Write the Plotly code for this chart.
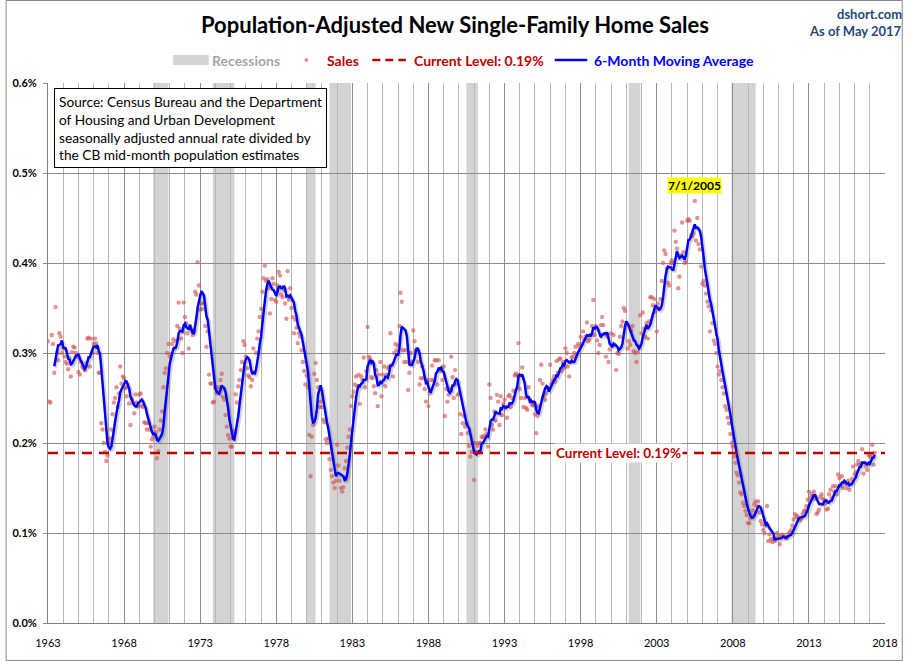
import pandas as pd
import plotly.graph_objects as go

# ---------------- data (percent of population, SAAR new single-family sales) -------------
start_month = "1963-01-01"

sales_1960s = [
    .313, .246, .245, .320, .310, .278, .351, .300, .292, .322, .318, .300,  # 1963
    .305, .296, .290, .288, .282, .294, .274, .301, .307, .306, .300, .296,  # 1964
    .279, .276, .290, .285, .283, .281, .289, .316, .317, .285, .316, .300,  # 1965
    .310, .316, .311, .300, .278, .278, .222, .215, .200, .190, .180, .186,  # 1966
    .200, .205, .215, .232, .245, .250, .262, .240, .255, .285, .266, .274,  # 1967
    .272, .261, .252, .262, .244, .220, .249, .244, .233, .254, .245, .241,  # 1968
    .254, .255, .241, .240, .223, .222, .215, .222, .215, .196, .204, .207,  # 1969
]
sales_1970s = [
    .218, .212, .183, .191, .215, .225, .235, .262, .278, .283, .300, .310,  # 1970
    .296, .299, .310, .315, .305, .313, .330, .356, .327, .316, .300, .356,  # 1971
    .340, .333, .322, .305, .330, .325, .320, .325, .368, .365, .401, .375,  # 1972
    .348, .355, .349, .355, .330, .307, .324, .276, .266, .266, .245, .246,  # 1973
    .262, .255, .258, .262, .270, .277, .251, .248, .231, .218, .209, .205,  # 1974
    .196, .196, .205, .213, .254, .245, .263, .270, .281, .290, .313, .309,  # 1975
    .296, .283, .275, .273, .263, .270, .305, .278, .300, .316, .324, .340,  # 1976
    .349, .368, .383, .397, .380, .382, .372, .344, .360, .383, .377, .359,  # 1977
    .357, .375, .390, .386, .365, .362, .370, .355, .338, .391, .359, .372,  # 1978
    .350, .340, .322, .337, .328, .311, .322, .318, .303, .290, .280, .265,  # 1979
]
sales_1980s = [
    .275, .262, .209, .163, .207, .220, .277, .289, .270, .262, .240, .246,  # 1980
    .240, .226, .223, .204, .200, .205, .182, .170, .163, .156, .150, .158,  # 1981
    .198, .175, .158, .150, .146, .151, .172, .180, .195, .207, .215, .241,  # 1982
    .252, .257, .265, .274, .263, .276, .2435, .274, .270, .295, .262, .280,  # 1983
    .329, .296, .294, .273, .272, .263, .2554, .281, .241, .276, .290, .252,  # 1984
    .276, .285, .263, .276, .283, .285, .322, .287, .274, .300, .310, .303,  # 1985
    .308, .330, .367, .357, .303, .290, .303, .290, .259, .278, .300, .290,  # 1986
    .325, .313, .303, .303, .290, .265, .272, .285, .272, .260, .246, .270,  # 1987
    .241, .255, .270, .286, .270, .292, .292, .265, .292, .282, .280, .270,  # 1988
    .285, .230, .260, .246, .2535, .260, .296, .273, .250, .281, .266, .2535,  # 1989
]
sales_1990s = [
    .255, .232, .210, .222, .230, .218, .222, .211, .197, .185, .190, .200,  # 1990
    .159, .200, .190, .197, .200, .200, .207, .206, .208, .215, .210, .196,  # 1991
    .265, .250, .220, .215, .235, .225, .2535, .246, .220, .252, .231, .2435,  # 1992
    .248, .240, .228, .252, .2535, .240, .250, .258, .275, .277, .275, .311,  # 1993
    .260, .250, .284, .240, .250, .239, .237, .262, .248, .245, .242, .242,  # 1994
    .232, .211, .230, .241, .270, .287, .266, .252, .248, .255, .262, .260,  # 1995
    .287, .266, .270, .274, .268, .291, .278, .293, .294, .280, .290, .283,  # 1996
    .305, .300, .285, .274, .290, .295, .296, .300, .307, .298, .310, .307,  # 1997
    .318, .310, .324, .315, .318, .334, .313, .315, .320, .330, .359, .320,  # 1998
    .330, .314, .300, .309, .331, .340, .331, .321, .296, .318, .290, .304,  # 1999
]
sales_2000s = [
    .322, .309, .320, .309, .281, .300, .299, .318, .330, .335, .350, .347,  # 2000
    .331, .305, .313, .309, .325, .330, .302, .300, .290, .301, .307, .342,  # 2001
    .322, .345, .327, .318, .333, .316, .335, .362, .362, .353, .360, .346,  # 2002
    .324, .355, .350, .360, .380, .400, .414, .410, .394, .378, .375, .400,  # 2003
    .403, .400, .436, .4235, .416, .372, .385, .408, .445, .412, .400, .401,  # 2004
    .447, .449, .447, .430, .430, .433, .469, .425, .450, .421, .415, .396,  # 2005
    .377, .380, .375, .366, .357, .352, .324, .3476, .333, .314, .310, .300,  # 2006
    .285, .276, .280, .270, .262, .255, .241, .237, .228, .222, .210, .200,  # 2007
    .196, .185, .178, .167, .164, .156, .145, .143, .1336, .130, .1244, .120,  # 2008
    .111, .111, .116, .120, .125, .1317, .135, .130, .135, .1226, .1134, .1096,  # 2009
]
sales_2010s = [
    .1035, .100, .108, .130, .091, .0985, .093, .090, .094, .091, .0935, .100,  # 2010
    .0966, .0875, .096, .098, .097, .096, .094, .095, .099, .101, .103, .108,  # 2011
    .115, .121, .118, .119, .116, .114, .116, .121, .124, .125, .130, .137,  # 2012
    .146, .139, .143, .141, .146, .138, .121, .123, .126, .140, .143, .138,  # 2013
    .137, .133, .126, .127, .143, .148, .139, .152, .146, .152, .143, .165,  # 2014
    .161, .152, .163, .150, .157, .155, .150, .158, .148, .155, .160, .174,  # 2015
    .165, .168, .176, .180, .176, .177, .193, .166, .178, .174, .170, .187,  # 2016
    .185, .186, .198, .176, .189,                                            # 2017
]

recession_starts = ["1969-12-01", "1973-11-01", "1980-01-01", "1981-07-01",
                    "1990-07-01", "2001-03-01", "2007-12-01"]
recession_ends = ["1970-12-01", "1975-04-01", "1980-08-01", "1982-12-01",
                  "1991-04-01", "2001-12-01", "2009-07-01"]

tick_years = [1963, 1968, 1973, 1978, 1983, 1988, 1993, 1998, 2003, 2008, 2013, 2018]
y_ticks = [0.0, 0.1, 0.2, 0.3, 0.4, 0.5, 0.6]

# ---------------- derived series ----------------
sales = sales_1960s + sales_1970s + sales_1980s + sales_1990s + sales_2000s + sales_2010s
dates = pd.date_range(start_month, periods=len(sales), freq="MS")
s = pd.Series(sales, index=dates)
ma6 = s.rolling(6).mean()
current_level = sales[-1]
peak_date = s.idxmax()
peak_val = s.max()

# ---------------- layout geometry (pixels) ----------------
W, H = 910, 661
L, R, T, B = 43, 892, 83, 623


def px(x):
    return (x - L) / (R - L)


def py(y):
    return (B - y) / (B - T)


FONT = "Lato"
RED = "#C00000"
BLUE = "#0000FF"
DOT = "rgba(208,80,80,0.62)"
LEG = 14

fig = go.Figure()

fig.add_trace(go.Scatter(
    x=dates, y=s.values, mode="markers", name="Sales",
    marker=dict(size=4.4, color=DOT, line=dict(width=0)),
    showlegend=False, hoverinfo="skip"))

# soft shadow under moving average
fig.add_trace(go.Scatter(
    x=dates + pd.Timedelta(days=40), y=ma6.values - 0.0018, mode="lines",
    line=dict(color="rgba(60,60,60,0.22)", width=3),
    showlegend=False, hoverinfo="skip"))

fig.add_trace(go.Scatter(
    x=dates, y=ma6.values, mode="lines", name="6-Month Moving Average",
    line=dict(color=BLUE, width=2.5), showlegend=False))

shapes = []
for a, b in zip(recession_starts, recession_ends):
    shapes.append(dict(type="rect", xref="x", yref="paper", x0=a, x1=b, y0=0, y1=1,
                       fillcolor="#D3D3D3", line=dict(width=0), layer="below"))

# current level line
shapes.append(dict(type="line", xref="paper", yref="y", x0=0, x1=1,
                   y0=current_level, y1=current_level,
                   line=dict(color=RED, width=2.5, dash="10px,7px"), layer="above"))

# custom legend
ly = py(60)
shapes.append(dict(type="rect", xref="paper", yref="paper", x0=px(170), x1=px(206),
                   y0=py(65), y1=py(55), fillcolor="#D3D3D3", line=dict(width=0)))
shapes.append(dict(type="circle", xref="paper", yref="paper", x0=px(303), x1=px(307),
                   y0=py(62), y1=py(58), fillcolor=DOT, line=dict(width=0)))
shapes.append(dict(type="line", xref="paper", yref="paper", x0=px(372), x1=px(406),
                   y0=ly, y1=ly, line=dict(color=RED, width=2.5, dash="8px,5px")))
shapes.append(dict(type="line", xref="paper", yref="paper", x0=px(557), x1=px(590),
                   y0=ly, y1=ly, line=dict(color=BLUE, width=2.5)))

# chart border
shapes.append(dict(type="rect", xref="paper", yref="paper", x0=px(0.5), x1=px(909.5),
                   y0=py(660.5), y1=py(0.5), line=dict(color="#8A8A8A", width=1)))

annotations = [
    dict(text="<b>Population-Adjusted New Single-Family Home Sales</b>", xref="paper", yref="paper",
         x=px(456), y=py(24), xanchor="center", yanchor="middle", showarrow=False,
         font=dict(family=FONT, size=22, color="#000000")),
    dict(text="<b>dshort.com</b>", xref="paper", yref="paper", x=px(911), y=py(14),
         xanchor="right", yanchor="middle", showarrow=False,
         font=dict(family=FONT, size=13, color="#1F497D")),
    dict(text="<b>As of May 2017</b>", xref="paper", yref="paper", x=px(911), y=py(31),
         xanchor="right", yanchor="middle", showarrow=False,
         font=dict(family=FONT, size=13, color="#1F497D")),
    dict(text="<b>Recessions</b>", xref="paper", yref="paper", x=px(207), y=ly,
         xanchor="left", yanchor="middle", showarrow=False,
         font=dict(family=FONT, size=LEG, color="#A6A6A6")),
    dict(text="<b>Sales</b>", xref="paper", yref="paper", x=px(324), y=ly,
         xanchor="left", yanchor="middle", showarrow=False,
         font=dict(family=FONT, size=LEG, color=RED)),
    dict(text=f"<b>Current Level: {current_level:.2f}%</b>", xref="paper", yref="paper",
         x=px(412), y=ly, xanchor="left", yanchor="middle", showarrow=False,
         font=dict(family=FONT, size=LEG, color=RED)),
    dict(text="<b>6-Month Moving Average</b>", xref="paper", yref="paper", x=px(595), y=ly,
         xanchor="left", yanchor="middle", showarrow=False,
         font=dict(family=FONT, size=LEG, color=BLUE)),
    dict(text=("Source: Census Bureau and the Department<br>of Housing and Urban Development<br>"
               "seasonally adjusted annual rate divided by<br>the CB mid-month population estimates"),
         xref="paper", yref="paper", x=px(49), y=py(88), xanchor="left", yanchor="top",
         align="left", showarrow=False, bgcolor="#FFFFFF", bordercolor="#000000",
         borderwidth=1, borderpad=4, font=dict(family=FONT, size=13.7, color="#000000")),
    dict(text=f"<b>{peak_date.month}/{peak_date.day}/{peak_date.year}</b>", xref="x", yref="y",
         x=peak_date, y=peak_val + 0.017, xanchor="center", yanchor="middle", showarrow=False,
         bgcolor="#FFFF00", borderpad=0, font=dict(family=FONT, size=12, color="#000000")),
    dict(text=f"<b>Current Level: {current_level:.2f}%</b>", xref="paper", yref="y",
         x=px(622), y=current_level, xanchor="center", yanchor="middle", showarrow=False,
         bgcolor="#FFFFFF", borderpad=1, font=dict(family=FONT, size=13.5, color=RED)),
]

fig.update_layout(
    width=W, height=H,
    margin=dict(l=L, r=W - R, t=T, b=H - B),
    paper_bgcolor="#FFFFFF", plot_bgcolor="#FFFFFF",
    showlegend=False,
    font=dict(family=FONT, size=11, color="#000000"),
    shapes=shapes, annotations=annotations,
    xaxis=dict(
        type="date", range=["1963-01-01", "2018-01-01"],
        tickvals=[f"{y}-01-01" for y in tick_years], ticktext=[str(y) for y in tick_years],
        showgrid=True, gridcolor="#8C8C8C", gridwidth=1,
        minor=dict(dtick="M12", tick0="1963-01-01", showgrid=True, gridcolor="#B8B8B8", gridwidth=1),
        showline=True, linecolor="#7F7F7F", linewidth=1,
        ticks="", ticklabelstandoff=10, tickfont=dict(family=FONT, size=11, color="#000000"),
        zeroline=False, fixedrange=True),
    yaxis=dict(
        range=[0, 0.6], tickvals=y_ticks, ticktext=[f"{v:.1f}%" for v in y_ticks],
        showgrid=True, gridcolor="#8C8C8C", gridwidth=1,
        showline=True, linecolor="#7F7F7F", linewidth=1,
        ticks="outside", ticklen=4, tickcolor="#8C8C8C", ticklabelstandoff=4,
        tickfont=dict(family=FONT, size=11, color="#000000", weight="bold"),
        zeroline=False, fixedrange=True),
)

fig.write_html("out.html", config={"displayModeBar": False})

# remove the browser's default page margin so the chart sits at the window origin
with open("out.html", "r", encoding="utf-8") as fh:
    html = fh.read()
html = html.replace("<head>", "<head><style>html,body{margin:0;padding:0;overflow:hidden;}</style>", 1)
with open("out.html", "w", encoding="utf-8") as fh:
    fh.write(html)
